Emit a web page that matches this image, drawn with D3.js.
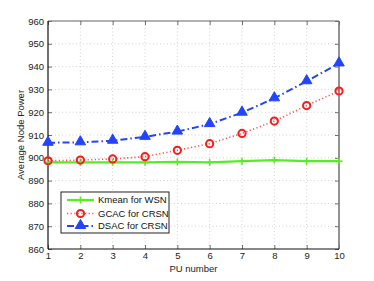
<!DOCTYPE html>
<html>
<head>
<meta charset="utf-8">
<script src="https://cdn.jsdelivr.net/npm/d3@7"></script>
<style>
  body { margin: 0; background: #fff; }
  text { font-family: "Liberation Sans", Arial, sans-serif; }
</style>
</head>
<body>
<div id="chart"></div>
<script>
// PU number on x axis
const puNumbers = [1, 2, 3, 4, 5, 6, 7, 8, 9, 10];
// average node power per method
const kmeanWSN = [898, 898, 898, 898, 898.2, 898, 898.5, 899, 898.5, 898.5];
const gcacCRSN = [898.7, 899, 899.5, 900.5, 903.3, 906.2, 910.7, 916.1, 922.9, 929.3];
const dsacCRSN = [906.6, 906.8, 907.5, 909.2, 911.5, 914.8, 919.8, 926.1, 933.6, 941.4];
const yTicks = [860, 870, 880, 890, 900, 910, 920, 930, 940, 950, 960];
const seriesNames = ["Kmean for WSN", "GCAC for CRSN", "DSAC for CRSN"];

const width = 374, height = 281;
const margin = { top: 21, right: 35, bottom: 32, left: 48 };

const svg = d3.select("#chart").append("svg")
    .attr("width", width)
    .attr("height", height);

const x = d3.scaleLinear().domain([1, 10]).range([margin.left, width - margin.right]);
const y = d3.scaleLinear().domain([860, 960]).range([height - margin.bottom, margin.top]);

const plotL = x(1), plotR = x(10), plotT = y(960), plotB = y(860);

// dotted grid
svg.append("g").selectAll("line.gx")
    .data(puNumbers.slice(1, -1))
    .enter().append("line")
    .attr("x1", d => x(d)).attr("x2", d => x(d))
    .attr("y1", plotT).attr("y2", plotB)
    .attr("stroke", "#c8c8c8").attr("stroke-width", 0.8)
    .attr("stroke-dasharray", "1,2.5");
svg.append("g").selectAll("line.gy")
    .data(yTicks.slice(1, -1))
    .enter().append("line")
    .attr("x1", plotL).attr("x2", plotR)
    .attr("y1", d => y(d)).attr("y2", d => y(d))
    .attr("stroke", "#c8c8c8").attr("stroke-width", 0.8)
    .attr("stroke-dasharray", "1,2.5");

// axes (ticks pointing inward)
const xAxis = d3.axisBottom(x).tickValues(puNumbers).tickSize(-4).tickPadding(3);
const yAxis = d3.axisLeft(y).tickValues(yTicks).tickSize(-4).tickPadding(4);

const gx = svg.append("g").attr("transform", `translate(0,${plotB})`).call(xAxis);
const gy = svg.append("g").attr("transform", `translate(${plotL},0)`).call(yAxis);
// mirrored ticks on top and right
const gxTop = svg.append("g").attr("transform", `translate(0,${plotT})`)
    .call(d3.axisTop(x).tickValues(puNumbers).tickSize(-4).tickFormat(""));
const gyRight = svg.append("g").attr("transform", `translate(${plotR},0)`)
    .call(d3.axisRight(y).tickValues(yTicks).tickSize(-4).tickFormat(""));

[gx, gy, gxTop, gyRight].forEach(g => {
    g.select(".domain").remove();
    g.selectAll(".tick line").attr("stroke", "#333").attr("stroke-width", 0.7);
    g.selectAll(".tick text").attr("font-size", 9.5).attr("fill", "#222")
        .style("font-family", "Liberation Sans, Arial, sans-serif");
});

// box
svg.append("line").attr("x1", plotL).attr("x2", plotR).attr("y1", plotT).attr("y2", plotT)
    .attr("stroke", "#666").attr("stroke-width", 1.2);
svg.append("line").attr("x1", plotR).attr("x2", plotR).attr("y1", plotT).attr("y2", plotB)
    .attr("stroke", "#777").attr("stroke-width", 1.6);
svg.append("line").attr("x1", plotL).attr("x2", plotR).attr("y1", plotB).attr("y2", plotB)
    .attr("stroke", "#111").attr("stroke-width", 1.2);
svg.append("line").attr("x1", plotL).attr("x2", plotL).attr("y1", plotT).attr("y2", plotB)
    .attr("stroke", "#111").attr("stroke-width", 1.2);

// axis labels
svg.append("text")
    .attr("x", (plotL + plotR) / 2).attr("y", 271.5)
    .attr("text-anchor", "middle").attr("font-size", 9.5).attr("fill", "#222")
    .text("PU number");
svg.append("text")
    .attr("transform", `translate(24,${(plotT + plotB) / 2}) rotate(-90)`)
    .attr("text-anchor", "middle").attr("font-size", 9.5).attr("fill", "#222")
    .text("Average Node Power");

const line = d3.line().x((d, i) => x(puNumbers[i])).y(d => y(d));

const green = "#55ee22", red = "#ff1a1a", blue = "#2244ff";

// Kmean - solid green with plus markers
svg.append("path").datum(kmeanWSN).attr("d", line)
    .attr("fill", "none").attr("stroke", green).attr("stroke-width", 2.2);
function plus(g, cx, cy, s, c) {
    g.append("line").attr("x1", cx - s).attr("x2", cx + s).attr("y1", cy).attr("y2", cy)
        .attr("stroke", c).attr("stroke-width", 1.6);
    g.append("line").attr("x1", cx).attr("x2", cx).attr("y1", cy - s).attr("y2", cy + s)
        .attr("stroke", c).attr("stroke-width", 1.6);
}
const gk = svg.append("g");
kmeanWSN.forEach((v, i) => plus(gk, x(puNumbers[i]), y(v), 3.5, green));

// GCAC - dotted red with circles
svg.append("path").datum(gcacCRSN).attr("d", line)
    .attr("fill", "none").attr("stroke", red).attr("stroke-width", 1.6)
    .attr("stroke-dasharray", "1.2,2.4").attr("opacity", 0.75);
svg.append("g").selectAll("circle").data(gcacCRSN).enter().append("circle")
    .attr("cx", (d, i) => x(puNumbers[i])).attr("cy", d => y(d)).attr("r", 3.6)
    .attr("fill", "none").attr("stroke", red).attr("stroke-width", 2);

// DSAC - dash-dot blue with triangles
svg.append("path").datum(dsacCRSN).attr("d", line)
    .attr("fill", "none").attr("stroke", blue).attr("stroke-width", 2)
    .attr("stroke-dasharray", "7,3,1.5,3");
const tri = d3.symbol().type(d3.symbolTriangle).size(48);
svg.append("g").selectAll("path").data(dsacCRSN).enter().append("path")
    .attr("d", tri)
    .attr("transform", (d, i) => `translate(${x(puNumbers[i])},${y(d) - 0.5})`)
    .attr("fill", blue).attr("stroke", blue).attr("stroke-width", 1);

// legend
const lg = svg.append("g");
const lx = 61, ly = 192, lw = 108, lh = 41;
lg.append("rect").attr("x", lx).attr("y", ly).attr("width", lw).attr("height", lh)
    .attr("fill", "#fff").attr("stroke", "#222").attr("stroke-width", 1);
const rows = [ly + 8, ly + 21.5, ly + 34];
seriesNames.forEach((name, i) => {
    const ry = rows[i];
    const x0 = lx + 6, x1 = lx + 33, xm = (x0 + x1) / 2;
    if (i === 0) {
        lg.append("line").attr("x1", x0).attr("x2", x1).attr("y1", ry).attr("y2", ry)
            .attr("stroke", green).attr("stroke-width", 2.2);
        plus(lg, xm, ry, 3.5, green);
    } else if (i === 1) {
        lg.append("line").attr("x1", x0).attr("x2", x1).attr("y1", ry).attr("y2", ry)
            .attr("stroke", red).attr("stroke-width", 1.6)
            .attr("stroke-dasharray", "1.2,2.4").attr("opacity", 0.75);
        lg.append("circle").attr("cx", xm).attr("cy", ry).attr("r", 3.6)
            .attr("fill", "none").attr("stroke", red).attr("stroke-width", 2);
    } else {
        lg.append("line").attr("x1", x0).attr("x2", x1).attr("y1", ry).attr("y2", ry)
            .attr("stroke", blue).attr("stroke-width", 2)
            .attr("stroke-dasharray", "7,3,1.5,3");
        lg.append("path").attr("d", tri).attr("transform", `translate(${xm},${ry - 0.5})`)
            .attr("fill", blue).attr("stroke", blue).attr("stroke-width", 1);
    }
    lg.append("text").attr("x", lx + 37).attr("y", ry + 3.3)
        .attr("font-size", 9.5).attr("fill", "#111").text(name);
});
</script>
</body>
</html>
